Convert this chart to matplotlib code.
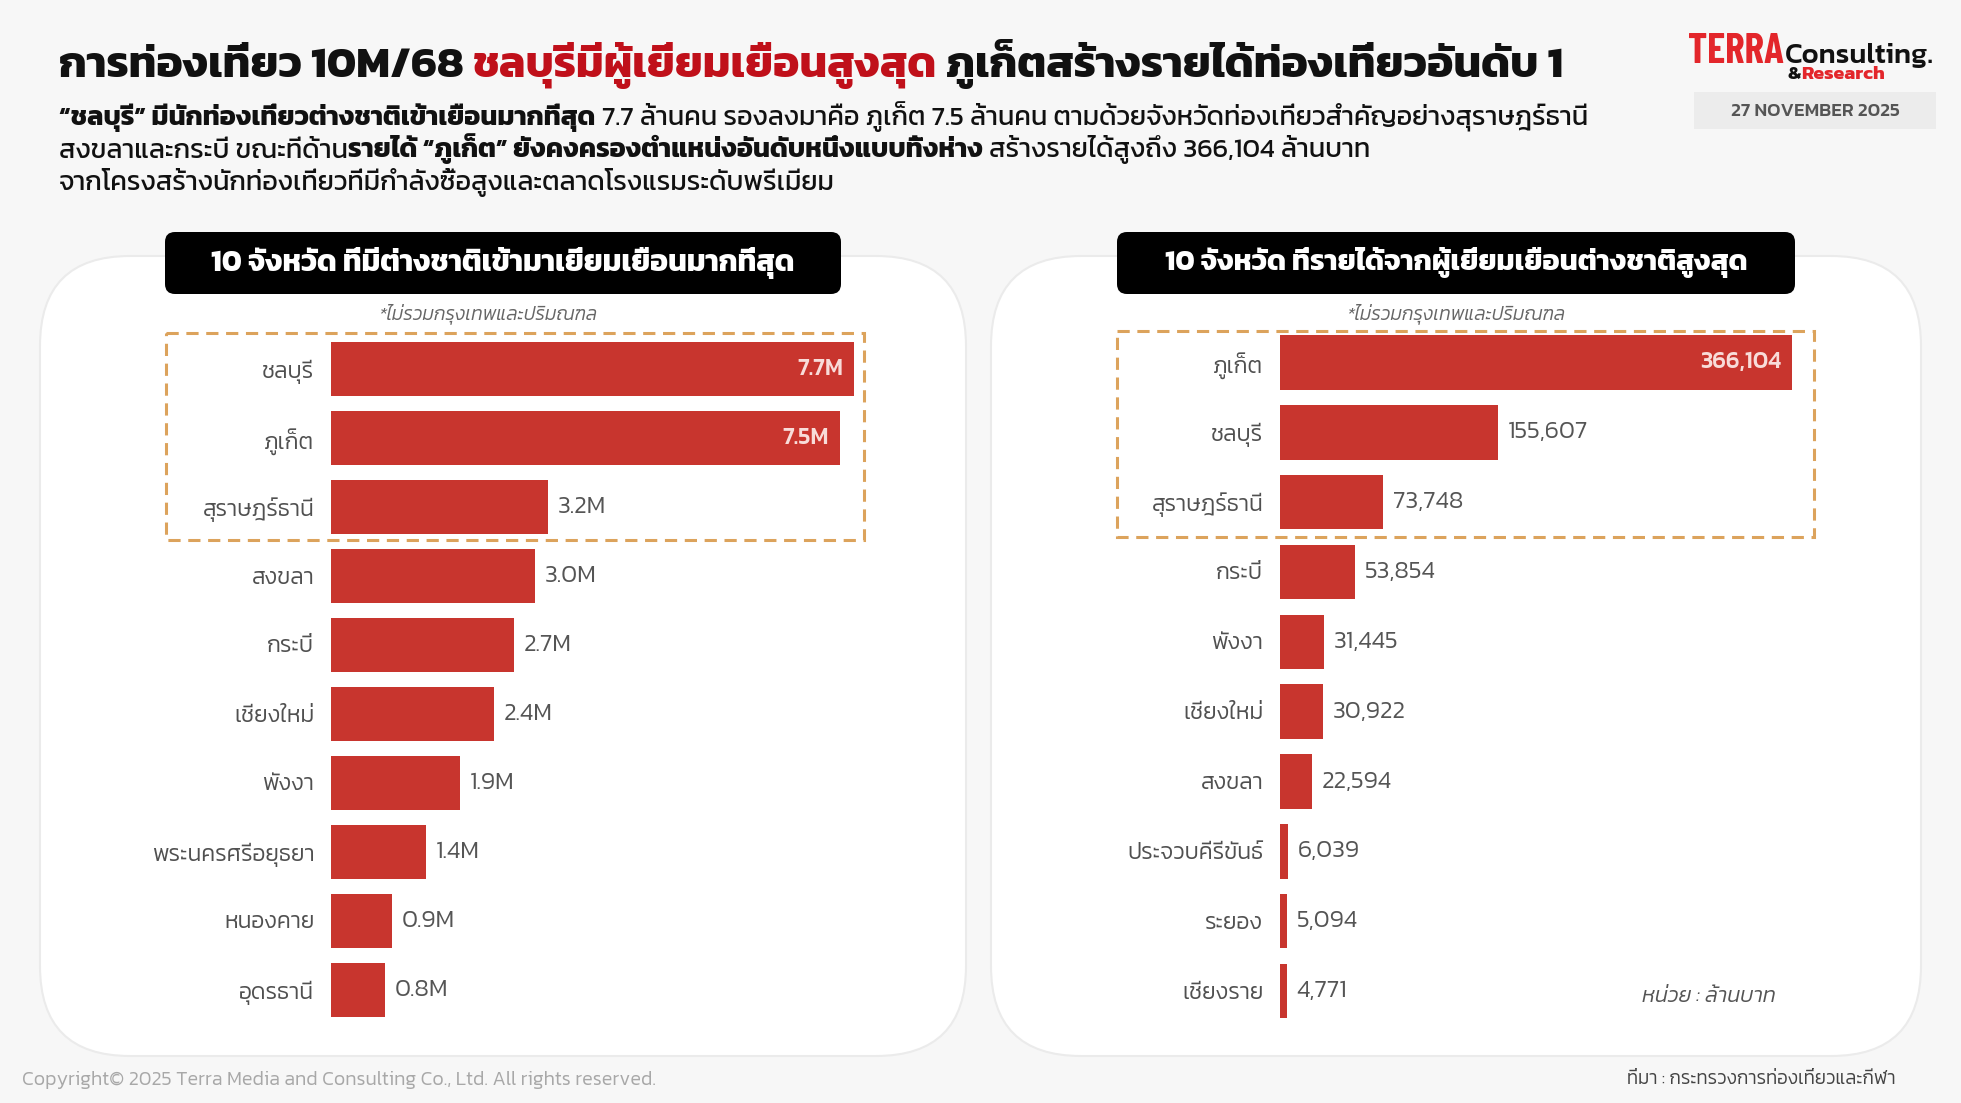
import matplotlib
matplotlib.use("Agg")
import matplotlib.pyplot as plt
from matplotlib import font_manager as fm
from matplotlib.ft2font import FT2Font
from matplotlib.patches import FancyBboxPatch, Rectangle

# ---------------- data ----------------
left_title = "10 จังหวัด ที่มีต่างชาติเข้ามาเยี่ยมเยือนมากที่สุด"
left_provinces = ["ชลบุรี", "ภูเก็ต", "สุราษฎร์ธานี", "สงขลา", "กระบี่", "เชียงใหม่",
                  "พังงา", "พระนครศรีอยุธยา", "หนองคาย", "อุดรธานี"]
left_visitors_m = [7.7, 7.5, 3.2, 3.0, 2.7, 2.4, 1.9, 1.4, 0.9, 0.8]

right_title = "10 จังหวัด ที่รายได้จากผู้เยี่ยมเยือนต่างชาติสูงสุด"
right_provinces = ["ภูเก็ต", "ชลบุรี", "สุราษฎร์ธานี", "กระบี่", "พังงา", "เชียงใหม่",
                   "สงขลา", "ประจวบคีรีขันธ์", "ระยอง", "เชียงราย"]
right_revenue_mthb = [366104, 155607, 73748, 53854, 31445, 30922, 22594, 6039, 5094, 4771]

note_text = "*ไม่รวมกรุงเทพและปริมณฑล"
unit_text = "หน่วย : ล้านบาท"
source_text = "ที่มา : กระทรวงการท่องเที่ยวและกีฬา"
copyright_text = "Copyright© 2025 Terra Media and Consulting Co., Ltd. All rights reserved."
date_text = "27 NOVEMBER 2025"

# ---------------- fonts ----------------
cands = set()
for f in fm.fontManager.ttflist:
    try:
        cm = FT2Font(f.fname).get_charmap()
    except Exception:
        continue
    if 0x0E01 in cm and 0x0E35 in cm:
        cands.add(f.name)
thai = None
for p in ["Kanit", "Prompt", "Noto Sans Thai", "Sarabun", "Loma"]:
    if p in cands:
        thai = p
        break
FAM = ([thai] if thai else []) + ["DejaVu Sans"]
plt.rcParams["font.family"] = FAM
allnames = {f.name for f in fm.fontManager.ttflist}
COND = (["Barlow Condensed"] if "Barlow Condensed" in allnames else []) + FAM

RED = "#c8352e"
W, H = 1961, 1103
fig = plt.figure(figsize=(W / 100, H / 100), dpi=100, facecolor="#f7f7f7")
bg = fig.add_axes([0, 0, 1, 1], zorder=0)
bg.set_xlim(0, W)
bg.set_ylim(H, 0)
bg.axis("off")
renderer = fig.canvas.get_renderer()


def twidth(t, size, weight="normal", style="normal", family=None):
    o = bg.text(0, 0, t, fontsize=size, fontweight=weight, style=style,
                family=family or FAM)
    w = o.get_window_extent(renderer).width
    o.remove()
    return w


def space_w(size, weight):
    return twidth("n n", size, weight) - twidth("nn", size, weight)


def runs_width(runs, size):
    tot = 0
    for t, c, w in runs:
        lead = len(t) - len(t.lstrip(" "))
        trail = len(t) - len(t.rstrip(" "))
        s = t.strip(" ")
        sw = space_w(size, w)
        tot += (lead + trail) * sw + (twidth(s, size, w) if s else 0)
    return tot


def draw_runs(x, y, runs, size, style="normal"):
    cx = x
    for t, c, w in runs:
        lead = len(t) - len(t.lstrip(" "))
        trail = len(t) - len(t.rstrip(" "))
        s = t.strip(" ")
        sw = space_w(size, w)
        cx += lead * sw
        if s:
            o = bg.text(cx, y, s, color=c, fontsize=size, fontweight=w, va="baseline",
                        ha="left", style=style)
            cx += o.get_window_extent(renderer).width
        cx += trail * sw
    return cx


def fit_size(runs, size, target):
    return size * target / runs_width(runs, size)


# ---------------- header ----------------
title_runs = [("การท่องเที่ยว 10M/68 ", "#111111", "bold"),
              ("ชลบุรีมีผู้เยี่ยมเยือนสูงสุด", "#c0101a", "bold"),
              (" ภูเก็ตสร้างรายได้ท่องเที่ยวอันดับ 1", "#111111", "bold")]
ts = fit_size(title_runs, 30, 1502)
draw_runs(59, 77, title_runs, ts)

sub_lines = [
    [("“ชลบุรี” มีนักท่องเที่ยวต่างชาติเข้าเยือนมากที่สุด", "#111111", "bold"),
     (" 7.7 ล้านคน รองลงมาคือ ภูเก็ต 7.5 ล้านคน ตามด้วยจังหวัดท่องเที่ยวสำคัญอย่างสุราษฎร์ธานี", "#111111", "normal")],
    [("สงขลาและกระบี่ ขณะที่ด้าน", "#111111", "normal"),
     ("รายได้ “ภูเก็ต” ยังคงครองตำแหน่งอันดับหนึ่งแบบทิ้งห่าง", "#111111", "bold"),
     (" สร้างรายได้สูงถึง 366,104 ล้านบาท", "#111111", "normal")],
    [("จากโครงสร้างนักท่องเที่ยวที่มีกำลังซื้อสูงและตลาดโรงแรมระดับพรีเมียม", "#111111", "normal")],
]
ss = fit_size(sub_lines[0], 17, 1531)
for i, ln in enumerate(sub_lines):
    draw_runs(59, 125 + i * 32.5, ln, ss)

# logo
tsz = 26 * 96 / twidth("TERRA", 26, "bold", family=COND)
bg.text(1688, 63, "TERRA", fontsize=tsz, fontweight="bold", color="#e3262b",
        family=COND, va="baseline", ha="left")
csz = 20 * 149 / twidth("Consulting.", 20, 500)
bg.text(1785, 63, "Consulting.", fontsize=csz, fontweight=500, color="#111111",
        va="baseline", ha="left")
rsz = 13 * 97 / runs_width([("&Research", "", "bold")], 13)
draw_runs(1788, 79, [("&", "#111111", "bold"), ("Research", "#e3262b", "bold")], rsz)
bg.add_patch(Rectangle((1694, 92), 242, 37, facecolor="#ececec", edgecolor="none"))
dsz = 12 * 168 / twidth(date_text, 12, 500)
bg.text(1815, 111, date_text, fontsize=dsz, color="#555555", ha="center", va="center",
        fontweight=500)

# ---------------- panels ----------------
for x0, x1 in [(40, 966), (991, 1921)]:
    bg.add_patch(FancyBboxPatch((x0, 256), x1 - x0, 800,
                                boxstyle="round,pad=0,rounding_size=90",
                                facecolor="white", edgecolor="#ebebeb", lw=1.5))

for (x0, x1), t in [((165, 841), left_title), ((1117, 1795), right_title)]:
    bg.add_patch(FancyBboxPatch((x0, 232), x1 - x0, 62,
                                boxstyle="round,pad=0,rounding_size=10",
                                facecolor="black", edgecolor="none"))
    sz = fit_size([(t, "white", "bold")], 20, 584)
    bg.text((x0 + x1) / 2, 263, t, color="white", fontsize=sz, fontweight="bold",
            ha="center", va="center")

for cx in (488, 1456):
    bg.text(cx, 314, note_text, fontsize=13.7, color="#666666", style="italic",
            fontweight=300, ha="center", va="center")

# dashed highlight boxes
for (x0, y0, x1, y1) in [(166, 333, 864, 540), (1117, 331, 1814, 537)]:
    bg.add_patch(Rectangle((x0, y0), x1 - x0, y1 - y0, facecolor="none",
                           edgecolor="#dca35c", lw=2.2, linestyle=(0, (4, 2.5))))

bg.text(1709, 996, unit_text, fontsize=15.5, color="#555555", style="italic",
        fontweight=300, ha="center", va="center")

# footer
cs = 12.5 * 633 / twidth(copyright_text, 12.5, 300)
bg.text(22, 1080, copyright_text, fontsize=cs, color="#a8a8a8", va="center", ha="left",
        fontweight=300)
bg.text(1896, 1080, source_text, fontsize=13.5, color="#444444", va="center", ha="right",
        fontweight=300)


# ---------------- charts ----------------
def bar_chart(rect, cats, vals, xmax, fmt):
    ax = fig.add_axes(rect, zorder=2)
    ax.set_facecolor("none")
    y = list(range(len(cats)))
    ax.barh(y, vals, height=0.78, color=RED)
    ax.set_ylim(len(cats) - 0.5, -0.5)
    ax.set_xlim(0, xmax)
    ax.set_yticks(y)
    ax.set_yticklabels(cats, fontsize=16.5, color="#505050", fontweight=300)
    ax.tick_params(axis="y", length=0, pad=12)
    ax.set_xticks([])
    for s in ax.spines.values():
        s.set_visible(False)
    vmax = max(vals)
    for yi, v in zip(y, vals):
        if v > 0.6 * vmax:
            ax.annotate(fmt(v), (v, yi), xytext=(-8, 0), textcoords="offset points",
                        ha="right", va="center", color="#f8dcd9", fontsize=17,
                        fontweight=500)
        else:
            ax.annotate(fmt(v), (v, yi), xytext=(7, 0), textcoords="offset points",
                        ha="left", va="center", color="#555555", fontsize=17.8,
                        fontweight=300)
    return ax


bar_chart([331 / W, 1 - 1024.5 / H, 540 / W, 690 / H], left_provinces, left_visitors_m,
          7.7 * 540 / 523, lambda v: f"{v:.1f}M")
bar_chart([1280 / W, 1 - 1026 / H, 540 / W, 698.5 / H], right_provinces, right_revenue_mthb,
          366104 * 540 / 512, lambda v: f"{v:,}")

fig.savefig("out.png", dpi=100, facecolor=fig.get_facecolor())
